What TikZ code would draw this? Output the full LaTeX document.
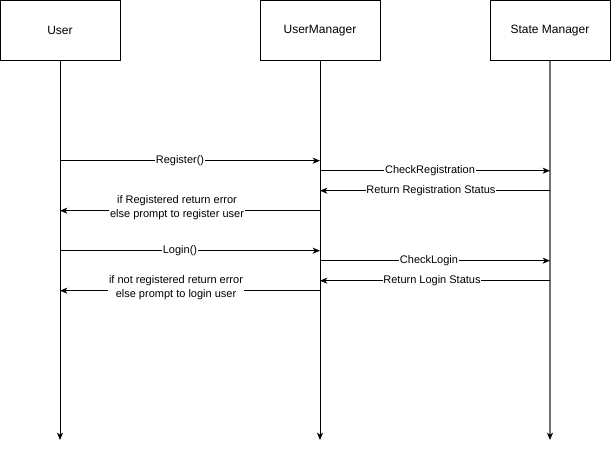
\documentclass[tikz,border=0pt]{standalone}
\usepackage{fontspec}
\setmainfont{Liberation Sans}
\usetikzlibrary{arrows.meta}
\begin{document}
\begin{tikzpicture}[x=0.75pt,y=-0.75pt,
  actor/.style={draw,line width=0.75pt,minimum width=90pt,minimum height=45pt,inner sep=0pt,font=\fontsize{9}{11}\selectfont},
  life/.style={line width=0.75pt,-{Stealth[length=5.5pt,width=4.5pt,inset=1.5pt,color=black]}},
  msg/.style={line width=0.75pt,-{Stealth[length=5.5pt,width=4.5pt,inset=1.5pt]}},
  lbl/.style={fill=white,inner sep=0.5pt,font=\fontsize{8.25}{10}\selectfont,align=center}]
\useasboundingbox (0,0) rectangle (612,449);
\node[actor] (user) at (60,30.5) {User};
\node[actor] (um) at (320,30.5) {UserManager};
\node[actor] (sm) at (550,30.5) {State Manager};
\coordinate (ue) at (60,440);
\coordinate (ume) at (320,440);
\coordinate (sme) at (550,440);
\draw[life] (user.south) -- (ue);
\draw[life] (um.south) -- (ume);
\draw[life,draw=black!55,line width=1pt] (sm.south) -- (sme);
% lifeline anchor coordinates
\foreach \y in {160,170,190,210,250,260,280,290}{
  \coordinate (u\y) at (60,\y+0.7);
  \coordinate (m\y) at (320,\y+0.7);
  \coordinate (s\y) at (550,\y+0.7);
}
\draw[msg] (u160) -- (m160);
\node[lbl] (l1) at (180,160.7) {Register()};
\draw[msg] (m170) -- (s170);
\node[lbl] (l2) at (430,170.7) {CheckRegistration};
\draw[msg] (s190) -- (m190);
\node[lbl] (l3) at (431,190.7) {Return Registration Status};
\draw[msg] (m210) -- (u210);
\node[lbl] (l4) at (177,207.5) {if Registered return error\\else prompt to register user};
\draw[msg] (u250) -- (m250);
\node[lbl] (l5) at (180,250.7) {Login()};
\draw[msg] (m260) -- (s260);
\node[lbl] (l6) at (429,260.7) {CheckLogin};
\draw[msg] (s280) -- (m280);
\node[lbl] (l7) at (432,280.7) {Return Login Status};
\draw[msg] (m290) -- (u290);
\node[lbl] (l8) at (176,287.5) {if not registered return error\\else prompt to login user\ };
\end{tikzpicture}
\end{document}
